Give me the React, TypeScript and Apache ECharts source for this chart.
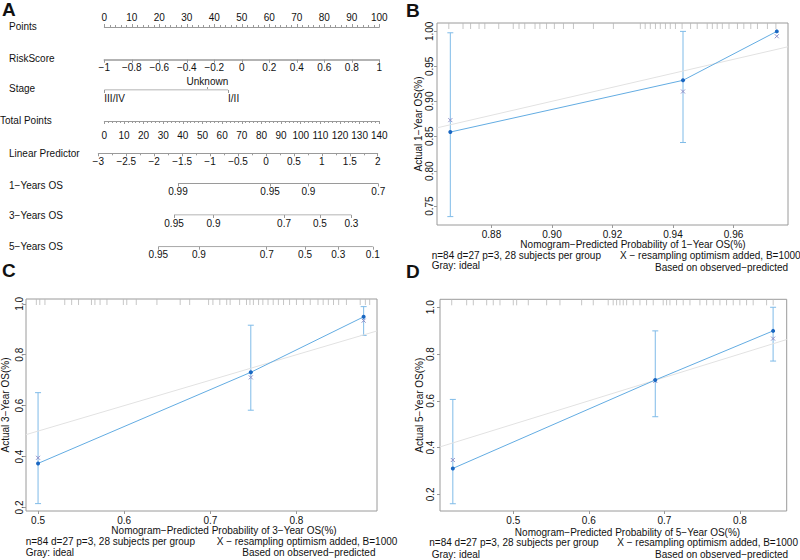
import React, { useEffect, useRef } from 'react';
import * as echarts from 'echarts';

const FONT = '"Liberation Sans", Arial, Helvetica, sans-serif';
const TEXT = '#111111';
const AXIS = '#9a9a9a';
const BOX = '#9a9a9a';
const IDEAL = '#e2e2e2';
const OBS_LINE = '#63ace2';
const OBS_DOT = '#1a67c2';
const ERR = '#7fbbe8';
const XMARK = '#8f8fc8';
const RUG = '#b8b8b8';

// ---------- Panel A: nomogram ----------
const pointsTicks = [0, 100];
const riskScoreRange = [-1, 1];
const stageLabels = ['III/IV', 'I/II'];
const stagePoints = [0, 45];
const stageUnknownLabel = ['Unknown'];
const stageUnknownPoints = [37.5];
const totalPointsRange = [0, 140];
const lpRange = [-3, 2];
const lpAtTotalPoints = [-3.05, 139.2];
const os1Labels = ['0.99', '0.95', '0.9', '0.7'];
const os1TotalPoints = [37.5, 84.4, 103.9, 139.5];
const os3Labels = ['0.95', '0.9', '0.7', '0.5', '0.3'];
const os3TotalPoints = [35.5, 55.6, 91.5, 109.8, 125.8];
const os5Labels = ['0.95', '0.9', '0.7', '0.5', '0.3', '0.1'];
const os5TotalPoints = [27.5, 48.2, 82.7, 102.2, 119.1, 136.7];

// ---------- Panel B: 1-year calibration ----------
const bPred = [0.8664, 0.9433, 0.9743];
const bObserved = [0.856, 0.93, 1.0];
const bCorrected = [0.873, 0.914, 0.993];
const bLower = [0.735, 0.841, 1.0];
const bUpper = [0.998, 1.0, 1.0];
const bXTicks = [0.88, 0.9, 0.92, 0.94, 0.96];
const bYTicks = [0.75, 0.8, 0.85, 0.9, 0.95, 1.0];
const bRug = [0.8659, 0.8706, 0.8731, 0.8759, 0.8778, 0.8824, 0.8872, 0.8891, 0.891, 0.8944, 0.896, 0.8982, 0.9008,
  0.9038, 0.9071, 0.9137, 0.9203, 0.9292, 0.9308, 0.9325, 0.9342, 0.9358, 0.9375, 0.9391, 0.9408, 0.943, 0.9458,
  0.948, 0.9513, 0.953, 0.9546, 0.9563, 0.9585, 0.9613, 0.9634, 0.9657, 0.9679, 0.9712, 0.974];

// ---------- Panel C: 3-year calibration ----------
const cPred = [0.5, 0.747, 0.878];
const cObserved = [0.373, 0.731, 0.949];
const cCorrected = [0.395, 0.711, 0.934];
const cLower = [0.215, 0.582, 0.876];
const cUpper = [0.651, 0.916, 0.989];
const cXTicks = [0.5, 0.6, 0.7, 0.8];
const cYTicks = [0.2, 0.4, 0.6, 0.8, 1.0];
const cRug = [0.498, 0.502, 0.508, 0.531, 0.539, 0.547, 0.562, 0.566, 0.572, 0.58, 0.599, 0.603, 0.614, 0.638, 0.665,
  0.676, 0.698, 0.703, 0.711, 0.719, 0.723, 0.734, 0.742, 0.746, 0.75, 0.756, 0.761, 0.767, 0.773, 0.779, 0.785,
  0.792, 0.8, 0.808, 0.816, 0.825, 0.831, 0.837, 0.843, 0.849, 0.858, 0.874, 0.88, 0.885];

// ---------- Panel D: 5-year calibration ----------
const dPred = [0.42, 0.688, 0.844];
const dObserved = [0.311, 0.689, 0.899];
const dCorrected = [0.347, 0.685, 0.866];
const dLower = [0.16, 0.532, 0.77];
const dUpper = [0.606, 0.899, 1.0];
const dXTicks = [0.5, 0.6, 0.7, 0.8];
const dYTicks = [0.2, 0.4, 0.6, 0.8, 1.0];
const dRug = [0.4185, 0.4383, 0.4471, 0.4648, 0.4735, 0.4824, 0.5, 0.5045, 0.5199, 0.5442, 0.5618, 0.5905, 0.6059,
  0.6257, 0.6323, 0.6368, 0.6412, 0.6456, 0.6501, 0.6588, 0.6677, 0.6765, 0.6853, 0.6985, 0.703, 0.7074, 0.7162,
  0.725, 0.7339, 0.7471, 0.756, 0.7647, 0.7736, 0.7824, 0.7912, 0.8, 0.8089, 0.8176, 0.8354, 0.8441];

const subtitleLeft = ['n=84 d=27 p=3, 28 subjects per group', 'Gray: ideal'];
const subtitleRight = ['X \u2212 resampling optimism added, B=1000', 'Based on observed\u2212predicted'];

const minus = (s: string) => s.replace('-', '\u2212');
const fmt = (v: number, d?: number) => minus(d === undefined ? String(+v.toFixed(3)) : v.toFixed(d));

function buildOption() {
  const grids: any[] = [];
  const xAxes: any[] = [];
  const yAxes: any[] = [];
  const series: any[] = [];
  const graphics: any[] = [];

  const lab = (margin: number, extra: any = {}) => ({
    show: true, fontSize: 10, color: TEXT, fontFamily: FONT, margin, ...extra,
  });
  const addGrid = (g: any) => {
    grids.push({ show: false, containLabel: false, outerBoundsMode: 'none', ...g });
    return grids.length - 1;
  };
  const addY = (gi: number, min = 0, max = 1, extra: any = {}) => {
    yAxes.push({ gridIndex: gi, type: 'value', min, max, show: false, splitLine: { show: false }, ...extra });
    return yAxes.length - 1;
  };
  const addX = (gi: number, cfg: any) => {
    xAxes.push({ gridIndex: gi, type: 'value', splitLine: { show: false }, ...cfg });
    return xAxes.length - 1;
  };
  const text = (t: string, x: number, y: number, opts: any = {}) => {
    graphics.push({
      type: 'text', x, y, silent: true,
      style: { text: t, fill: TEXT, font: `${opts.weight || 'normal'} ${opts.size || 10}px ${FONT}`,
        lineHeight: opts.size || 10,
        textAlign: opts.align || 'left', textVerticalAlign: 'middle' },
    });
  };

  // ----- nomogram -----
  const NL = 104.3;
  const NW = 275;
  const tpToLeft = (tp: number) => NL + (tp - totalPointsRange[0]) / (totalPointsRange[1] - totalPointsRange[0]) * NW;
  const axisLine = (w = 1) => ({ show: true, lineStyle: { color: AXIS, width: w } });
  const tick = (len = 3, extra: any = {}) => ({ show: true, length: len, lineStyle: { color: AXIS, width: 1 }, ...extra });

  // Points
  {
    const g = addGrid({ left: NL, width: NW, top: 26, height: 1 });
    addY(g);
    addX(g, {
      position: 'top', min: pointsTicks[0], max: pointsTicks[1], interval: 10,
      axisLine: axisLine(), axisTick: tick(3),
      minorTick: { show: true, splitNumber: 5, length: 2, lineStyle: { color: AXIS } },
      axisLabel: lab(4),
    });
  }
  // RiskScore
  {
    const g = addGrid({ left: NL, width: NW, top: 58.7, height: 1 });
    addY(g);
    addX(g, {
      position: 'bottom', min: riskScoreRange[0], max: riskScoreRange[1], interval: 0.2,
      axisLine: axisLine(1.5), axisTick: tick(3),
      axisLabel: lab(3, { formatter: (v: number) => fmt(v) }),
    });
  }
  // Stage
  {
    const g = addGrid({ left: NL, width: NW, top: 89, height: 1 });
    const yi = addY(g);
    const xi = addX(g, {
      position: 'bottom', min: pointsTicks[0], max: pointsTicks[1],
      axisLine: { show: false },
      axisTick: tick(3, { customValues: stagePoints }),
      axisLabel: lab(3, { customValues: stagePoints, align: 'left', padding: [0, 0, 0, 0],
        formatter: (v: number) => stageLabels[stagePoints.indexOf(v)] ?? '' }),
    });
    addX(g, {
      position: 'top', min: pointsTicks[0], max: pointsTicks[1],
      axisLine: { show: false },
      axisTick: tick(2, { customValues: stageUnknownPoints }),
      axisLabel: lab(3, { customValues: stageUnknownPoints, formatter: (v: number) => stageUnknownLabel[stageUnknownPoints.indexOf(v)] ?? '' }),
    });
    series.push({
      type: 'line', xAxisIndex: xi, yAxisIndex: yi, symbol: 'none', silent: true,
      data: [[stagePoints[0], 0], [stagePoints[stagePoints.length - 1], 0]],
      lineStyle: { color: AXIS, width: 1 },
    });
  }
  // Total points
  {
    const g = addGrid({ left: NL, width: NW, top: 120, height: 1 });
    addY(g);
    addX(g, {
      position: 'bottom', min: totalPointsRange[0], max: totalPointsRange[1], interval: 10,
      axisLine: axisLine(), axisTick: tick(3),
      minorTick: { show: true, splitNumber: 5, length: 2, lineStyle: { color: AXIS } },
      axisLabel: lab(9),
    });
  }
  // Linear predictor
  {
    const left = tpToLeft(lpAtTotalPoints[0]);
    const right = tpToLeft(lpAtTotalPoints[1]);
    const g = addGrid({ left, width: right - left, top: 152.3, height: 1 });
    addY(g);
    addX(g, {
      position: 'bottom', min: lpRange[0], max: lpRange[1], interval: 0.5,
      axisLine: axisLine(), axisTick: tick(3),
      minorTick: { show: true, splitNumber: 2, length: 2, lineStyle: { color: AXIS } },
      axisLabel: lab(3, { formatter: (v: number) => fmt(v) }),
    });
  }
  // OS rows
  const osRows: [string[], number[], number][] = [
    [os1Labels, os1TotalPoints, 183.5],
    [os3Labels, os3TotalPoints, 215],
    [os5Labels, os5TotalPoints, 246.7],
  ];
  osRows.forEach(([labels, tps, y]) => {
    const g = addGrid({ left: NL, width: NW, top: y - 1, height: 1 });
    const yi = addY(g);
    const xi = addX(g, {
      position: 'bottom', min: totalPointsRange[0], max: totalPointsRange[1],
      axisLine: { show: false },
      axisTick: tick(3, { customValues: tps }),
      axisLabel: lab(3, { customValues: tps, formatter: (v: number) => labels[tps.indexOf(v)] ?? '' }),
    });
    series.push({
      type: 'line', xAxisIndex: xi, yAxisIndex: yi, symbol: 'none', silent: true,
      data: [[tps[0], 0], [tps[tps.length - 1], 0]],
      lineStyle: { color: AXIS, width: 1 },
    });
  });

  text('Points', 9, 26);
  text('RiskScore', 9, 58);
  text('Stage', 9, 88);
  text('Total Points', 0, 120);
  text('Linear Predictor', 9, 153);
  text('1\u2212Years OS', 9, 185);
  text('3\u2212Years OS', 9, 215);
  text('5\u2212Years OS', 9, 246);

  // ----- calibration panels -----
  type Cal = {
    left: number; top: number; right: number; bottom: number;
    xMin: number; xMax: number; yMin: number; yMax: number;
    xTicks: number[]; yTicks: number[]; dec: number;
    pred: number[]; obs: number[]; corr: number[]; lo: number[]; hi: number[]; rug: number[];
    yName: string; nameGap: number; yLabMargin: number; xLabMargin: number;
  };
  const addCal = (c: Cal) => {
    const g = addGrid({
      left: c.left, top: c.top, width: c.right - c.left, height: c.bottom - c.top,
      show: true, borderColor: BOX, borderWidth: 1, backgroundColor: 'transparent',
    });
    const xi = addX(g, {
      position: 'bottom', min: c.xMin, max: c.xMax,
      axisLine: { show: false },
      axisTick: { show: true, length: 3, customValues: c.xTicks, lineStyle: { color: BOX } },
      axisLabel: lab(c.xLabMargin, { customValues: c.xTicks, formatter: (v: number) => v.toFixed(c.dec) }),
    });
    const yi = addY(g, c.yMin, c.yMax, {
      show: true, position: 'left',
      axisLine: { show: false },
      axisTick: { show: true, length: 3, customValues: c.yTicks, lineStyle: { color: BOX } },
      axisLabel: lab(c.yLabMargin, { rotate: 90, customValues: c.yTicks, formatter: (v: number) => v.toFixed(c.dec) }),
      name: c.yName, nameLocation: 'middle', nameRotate: 90, nameGap: c.nameGap,
      nameTextStyle: { fontSize: 10, color: TEXT, fontFamily: FONT },
    });
    const common = { xAxisIndex: xi, yAxisIndex: yi, silent: true };
    series.push({
      ...common, type: 'line', symbol: 'none',
      data: [[c.xMin, c.xMin], [c.xMax, c.xMax]],
      lineStyle: { color: IDEAL, width: 1 },
    });
    series.push({
      ...common, type: 'custom',
      data: c.rug.map((x) => [x, c.yMax]),
      renderItem: (_p: any, api: any) => {
        const p = api.coord([api.value(0), api.value(1)]);
        return { type: 'line', shape: { x1: p[0], y1: p[1], x2: p[0], y2: p[1] + 6 }, style: { stroke: RUG, lineWidth: 0.8 } };
      },
    });
    series.push({
      ...common, type: 'custom',
      data: c.pred.map((x, i) => [x, c.lo[i], c.hi[i]]),
      renderItem: (_p: any, api: any) => {
        const t = api.coord([api.value(0), api.value(2)]);
        const b = api.coord([api.value(0), api.value(1)]);
        if (Math.abs(t[1] - b[1]) < 0.5) return { type: 'group', children: [] };
        const st = { stroke: ERR, lineWidth: 1 };
        return {
          type: 'group', children: [
            { type: 'line', shape: { x1: t[0], y1: t[1], x2: b[0], y2: b[1] }, style: st },
            { type: 'line', shape: { x1: t[0] - 3, y1: t[1], x2: t[0] + 3, y2: t[1] }, style: st },
            { type: 'line', shape: { x1: b[0] - 3, y1: b[1], x2: b[0] + 3, y2: b[1] }, style: st },
          ],
        };
      },
    });
    series.push({
      ...common, type: 'line', symbol: 'circle', symbolSize: 4,
      data: c.pred.map((x, i) => [x, c.obs[i]]),
      lineStyle: { color: OBS_LINE, width: 1 },
      itemStyle: { color: OBS_DOT, borderWidth: 0 },
    });
    series.push({
      ...common, type: 'custom',
      data: c.pred.map((x, i) => [x, c.corr[i]]),
      renderItem: (_p: any, api: any) => {
        const p = api.coord([api.value(0), api.value(1)]);
        const s = 2;
        const st = { stroke: XMARK, lineWidth: 1 };
        return {
          type: 'group', children: [
            { type: 'line', shape: { x1: p[0] - s, y1: p[1] - s, x2: p[0] + s, y2: p[1] + s }, style: st },
            { type: 'line', shape: { x1: p[0] - s, y1: p[1] + s, x2: p[0] + s, y2: p[1] - s }, style: st },
          ],
        };
      },
    });
  };

  addCal({
    left: 437, top: 23, right: 788, bottom: 225,
    xMin: 0.862, xMax: 0.978, yMin: 0.723, yMax: 1.012,
    xTicks: bXTicks, yTicks: bYTicks, dec: 2,
    pred: bPred, obs: bObserved, corr: bCorrected, lo: bLower, hi: bUpper, rug: bRug,
    yName: 'Actual 1\u2212Year OS(%)', nameGap: 14, yLabMargin: 3, xLabMargin: 4,
  });
  addCal({
    left: 26, top: 299, right: 377, bottom: 511,
    xMin: 0.486, xMax: 0.8935, yMin: 0.186, yMax: 1.019,
    xTicks: cXTicks, yTicks: cYTicks, dec: 1,
    pred: cPred, obs: cObserved, corr: cCorrected, lo: cLower, hi: cUpper, rug: cRug,
    yName: 'Actual 3\u2212Year OS(%)', nameGap: 16, yLabMargin: 2, xLabMargin: 4,
  });
  addCal({
    left: 440, top: 299.3, right: 786.7, bottom: 511,
    xMin: 0.403, xMax: 0.862, yMin: 0.129, yMax: 1.034,
    xTicks: dXTicks, yTicks: dYTicks, dec: 1,
    pred: dPred, obs: dObserved, corr: dCorrected, lo: dLower, hi: dUpper, rug: dRug,
    yName: 'Actual 5\u2212Year OS(%)', nameGap: 16, yLabMargin: 5, xLabMargin: 4,
  });

  // axis titles and notes
  text('Nomogram\u2212Predicted Probability of 1\u2212Year OS(%)', 633, 244.7, { align: 'center' });
  text(subtitleLeft[0], 431.7, 255.5);
  text(subtitleLeft[1], 431.7, 265.5);
  text(subtitleRight[0], 620, 255.5);
  text(subtitleRight[1], 655, 267.5);

  text('Nomogram\u2212Predicted Probability of 3\u2212Year OS(%)', 224, 530, { align: 'center' });
  text(subtitleLeft[0], 25.7, 541);
  text(subtitleLeft[1], 25.7, 552.7);
  text(subtitleRight[0], 216.7, 541);
  text(subtitleRight[1], 242.3, 552.7);

  text('Nomogram\u2212Predicted Probability of 5\u2212Year OS(%)', 627.5, 532.7, { align: 'center' });
  text(subtitleLeft[0], 429.3, 542.3);
  text(subtitleLeft[1], 431.7, 554.3);
  text(subtitleRight[0], 617.3, 542.3);
  text(subtitleRight[1], 655, 554.3);

  // panel letters
  text('A', 2, 9, { size: 19, weight: 'bold' });
  text('B', 406, 10.5, { size: 19, weight: 'bold' });
  text('C', 2, 270.5, { size: 19, weight: 'bold' });
  text('D', 406, 271.5, { size: 19, weight: 'bold' });

  return {
    animation: false,
    backgroundColor: '#ffffff',
    textStyle: { fontFamily: FONT },
    grid: grids,
    xAxis: xAxes,
    yAxis: yAxes,
    series,
    graphic: graphics,
  };
}

export default function App() {
  const ref = useRef<HTMLDivElement>(null);
  useEffect(() => {
    if (!ref.current) return;
    const chart = echarts.init(ref.current, undefined, { renderer: 'svg' });
    chart.setOption(buildOption() as any);
    return () => chart.dispose();
  }, []);
  return <div ref={ref} style={{ position: 'fixed', left: 0, top: 0, width: 800, height: 560 }} />;
}
